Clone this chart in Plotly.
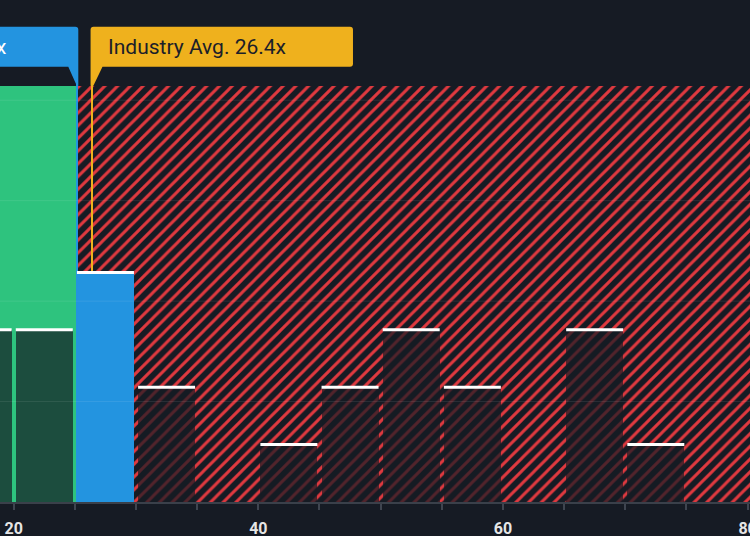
import plotly.graph_objects as go

# ---- data ----
bin_left = [15, 20, 25, 30, 35, 40, 45, 50, 55, 60, 65, 70, 75]
counts = [3, 3, 4, 2, 0, 1, 2, 3, 2, 0, 3, 1, 0]
bin_size = 5
company_pe = 25.2
company_label = "25.2x"
industry_avg = 26.4
industry_label = "Industry Avg. 26.4x"
tick_vals = [15, 20, 25, 30, 35, 40, 45, 50, 55, 60, 65, 70, 75, 80]
tick_text = ["", "20", "", "", "", "40", "", "", "", "60", "", "", "", "80"]
grid_vals = [1.75, 3.5, 5.25, 7.0]
region_top = 7.25
x_range = [18.88, 80.2]
y_range = [0, 8.746]

# ---- styles ----
BG = "#161b24"
GREEN = "#2ec37e"
RED = "#e0393f"
BLUE = "#2394e0"
YELLOW = "#efb11d"
BAR_DARK = "rgba(22,27,36,0.7)"
bar_w = 4.66

centers = [b + bin_size / 2 for b in bin_left]
bar_colors = [BLUE if (b <= company_pe < b + bin_size) else BAR_DARK for b in bin_left]

fig = go.Figure()

# green region (below company PE)
g_left = x_range[0] - 10
fig.add_trace(go.Bar(
    x=[(g_left + company_pe) / 2], y=[region_top], base=[0], width=[company_pe - g_left],
    marker=dict(color=GREEN, line=dict(width=0)),
    hoverinfo="skip", showlegend=False))

# hatched region (above company PE)
h_right = x_range[1] + 10
fig.add_trace(go.Bar(
    x=[(company_pe + h_right) / 2], y=[region_top], base=[0], width=[h_right - company_pe],
    marker=dict(color=BG, line=dict(width=0),
                pattern=dict(shape="/", fgcolor=RED, bgcolor=BG, size=9, solidity=0.33,
                             fillmode="replace")),
    hoverinfo="skip", showlegend=False))

# industry avg line
fig.add_trace(go.Bar(
    x=[industry_avg], y=[region_top + 0.4], base=[0], width=[0.22],
    marker=dict(color=YELLOW, line=dict(width=0)),
    hoverinfo="skip", showlegend=False))

# company line
fig.add_trace(go.Bar(
    x=[company_pe], y=[region_top + 0.4], base=[0], width=[0.16],
    marker=dict(color=BLUE, line=dict(width=0)),
    hoverinfo="skip", showlegend=False))

# histogram bars
fig.add_trace(go.Bar(
    x=centers, y=counts, width=bar_w,
    marker=dict(color=bar_colors, line=dict(width=0)),
    hoverinfo="skip", showlegend=False))

# white caps on bars
cx, cy = [], []
for c, n in zip(centers, counts):
    if n > 0:
        cx += [c - bar_w / 2, c + bar_w / 2, None]
        cy += [n, n, None]
fig.add_trace(go.Scatter(
    x=cx, y=cy, mode="lines", line=dict(color="white", width=3),
    hoverinfo="skip", showlegend=False))

shapes = []
for g in grid_vals:
    shapes.append(dict(type="line", xref="paper", x0=0, x1=1, yref="y", y0=g, y1=g,
                       line=dict(color="rgba(255,255,255,0.09)", width=1), layer="above"))

# industry label box with pointer
shapes.append(dict(
    type="path", xref="x", xsizemode="pixel", xanchor=industry_avg,
    yref="y", ysizemode="pixel", yanchor=region_top,
    path="M -1.4,0 L -1.4,56 Q -1.4,59 1.6,59 L 258,59 Q 261,59 261,56 L 261,22 Q 261,19 258,19 L 10.5,19 L 1.4,0 Z",
    fillcolor=YELLOW, line=dict(width=0), layer="above"))

# company label box with pointer
shapes.append(dict(
    type="path", xref="x", xsizemode="pixel", xanchor=company_pe,
    yref="y", ysizemode="pixel", yanchor=region_top,
    path="M -400,59 L -2,59 Q 1,59 1,56 L 1,0 L -0.5,0 L -9,19 L -400,19 Z",
    fillcolor=BLUE, line=dict(width=0), layer="above"))

annotations = [
    dict(xref="x", x=industry_avg, xanchor="left", xshift=14,
         yref="y", y=region_top, yanchor="middle", yshift=39,
         text=industry_label, showarrow=False,
         font=dict(family="Roboto", size=21, color="#1b2029")),
    dict(xref="x", x=company_pe, xanchor="right", xshift=-69,
         yref="y", y=region_top, yanchor="middle", yshift=39,
         text=company_label, showarrow=False,
         font=dict(family="Roboto", size=21, color="white")),
]

fig.update_layout(
    width=750, height=536,
    margin=dict(l=0, r=0, t=0, b=34, autoexpand=False),
    paper_bgcolor=BG, plot_bgcolor=BG,
    barmode="overlay", bargap=0, showlegend=False,
    shapes=shapes, annotations=annotations,
    xaxis=dict(range=x_range, tickvals=tick_vals, ticktext=tick_text,
               ticks="outside", ticklen=6, tickwidth=2, tickcolor="#3f4550",
               showline=True, linecolor="#3a404a", linewidth=2,
               showgrid=False, zeroline=False, ticklabeloverflow="allow",
               ticklabelstandoff=5, automargin=False,
               tickfont=dict(family="Roboto", size=16, color="#e6e6e6", weight="bold"),
               fixedrange=True),
    yaxis=dict(range=y_range, showgrid=False, zeroline=False, showticklabels=False,
               showline=False, fixedrange=True, automargin=False),
)

fig.write_html("out.html", config={"displayModeBar": False})
